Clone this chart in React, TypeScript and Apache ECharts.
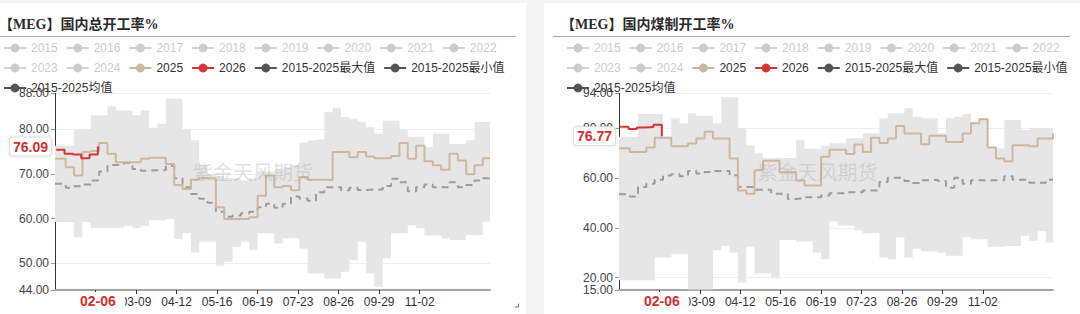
import React, { useEffect, useRef } from 'react';
import * as echarts from 'echarts';

document.body.style.margin = '0';

// ---------- categories: every MM-DD of a leap year ----------
const MONTH_DAYS = [31, 29, 31, 30, 31, 30, 31, 31, 30, 31, 30, 31];
const CATEGORIES: string[] = [];
MONTH_DAYS.forEach((n, m) => {
  for (let d = 1; d <= n; d++) {
    CATEGORIES.push(String(m + 1).padStart(2, '0') + '-' + String(d).padStart(2, '0'));
  }
});

const X_LABELS = ['03-09', '04-12', '05-16', '06-19', '07-23', '08-26', '09-29', '11-02'];
const X_TICKS = ['02-04', '03-09', '04-12', '05-16', '06-19', '07-23', '08-26', '09-29', '11-02'];
const LATEST_DATE = '02-06';

// weekly dates of the historical series (2025, max, min, mean)
const HIST_DATES = [
  '01-01', '01-10', '01-17', '01-24', '01-31', '02-07', '02-14', '02-21', '02-28', '03-06',
  '03-13', '03-20', '03-27', '04-03', '04-10', '04-17', '04-24', '05-01', '05-08', '05-15',
  '05-22', '05-29', '06-05', '06-12', '06-19', '06-26', '07-03', '07-10', '07-17', '07-24',
  '07-31', '08-07', '08-14', '08-21', '08-28', '09-04', '09-11', '09-18', '09-25', '10-02',
  '10-09', '10-16', '10-23', '10-30', '11-06', '11-13', '11-20', '11-27', '12-04', '12-11',
  '12-18', '12-25', '12-31',
];
const DATES_2026 = ['01-02', '01-09', '01-16', '01-23', '01-30', '02-06'];

const HIDDEN_YEARS = ['2015', '2016', '2017', '2018', '2019', '2020', '2021', '2022', '2023', '2024'];
const NAME_2025 = '2025';
const NAME_2026 = '2026';
const NAME_MAX = '2015-2025最大值';
const NAME_MIN = '2015-2025最小值';
const NAME_AVG = '2015-2025均值';

// ---------- 国内总开工率 ----------
const TOTAL_MAX = [76.3, 76.3, 80, 80, 83.1, 83.1, 85.1, 84.2, 84.2, 83.1, 84.2, 80.3, 81.2, 86.8, 86.8, 80, 77.5, 72, 70, 69.5, 69, 69, 68.5, 69, 70.5, 70.5, 71, 71.5, 72, 77, 77.5, 77.7, 83.8, 84.8, 82.7, 82.3, 81.6, 80.4, 79, 81.9, 81.9, 80, 78.3, 78.3, 76, 79, 79, 76.7, 76.7, 77.5, 81.6, 81.6, 76.8];
const TOTAL_MIN = [59.2, 59.2, 55.8, 59.2, 57.9, 57.9, 57.9, 57.9, 58.4, 57.9, 58.4, 59.6, 59.6, 59.9, 55.4, 56.7, 52.4, 54.8, 54.8, 49.4, 50.3, 53.7, 54.8, 53, 56.7, 56.7, 54.4, 55.6, 55.6, 53.3, 47.7, 47.7, 46.6, 46.6, 48.1, 50.7, 54.8, 47.7, 44.7, 51.1, 56.7, 56.7, 58.5, 57.8, 56.2, 56.2, 55.6, 55.2, 55.2, 56.3, 56.3, 59.3, 59.3];
const TOTAL_AVG = [67.8, 66.9, 67.2, 67.6, 68.5, 70.5, 72, 72.1, 72.4, 71.1, 70.7, 70.8, 70.8, 71.8, 69, 67, 65.5, 64.4, 63.5, 61.5, 60.4, 60.7, 61.2, 61.5, 62.5, 63.3, 62.4, 63.3, 64.9, 64.5, 64, 65.9, 67, 67, 66.3, 66.9, 66.4, 66.5, 66.5, 67.3, 68.9, 68.1, 66.1, 67, 67.6, 67, 67, 68.1, 67, 67.5, 68.5, 69, 68.6];
const TOTAL_2025 = [73.4, 71.5, 69.6, 74.9, 75.1, 76.9, 74.5, 72.6, 72.6, 72.6, 73.4, 73.6, 73.6, 72.2, 67.5, 66.6, 68.7, 69, 69, 62.5, 59.9, 59.9, 59.9, 60.3, 65.1, 69.6, 67, 67.3, 66.3, 69.3, 68.7, 68.7, 68.6, 74.9, 74.9, 73.7, 74.9, 73.9, 73.5, 73.5, 74, 76.9, 73.4, 76.3, 72.8, 71.9, 70.9, 74.5, 73, 69.9, 71.9, 73.5, 73.5];
const TOTAL_2026 = [75.4, 74.5, 74.3, 73.5, 74.3, 76.09];

// ---------- 国内煤制开工率 ----------
const COAL_MAX = [76.6, 76.6, 85.7, 85.7, 85.7, 76.6, 84, 82, 86, 85, 85, 82, 92.5, 92.5, 80, 73.2, 70, 68, 68, 68, 68, 75.2, 71.8, 71.8, 73, 74, 74, 76, 76, 78, 78, 84, 86, 86, 88, 84.6, 84, 84, 78, 84, 84.6, 85.7, 82.6, 84, 72.5, 71.9, 83.3, 83.3, 79.3, 80, 80, 80, 83.7];
const COAL_MIN = [18.9, 18.9, 18.9, 18.9, 28.1, 28.1, 29.4, 29.4, 15.2, 15.2, 15.2, 31, 32.7, 30.1, 18, 32.4, 21.6, 21.6, 19.7, 35.1, 35.1, 34.5, 34.5, 30.1, 27.4, 42.6, 40.9, 40.9, 38.9, 37.8, 37.8, 28.1, 27.4, 36.2, 28.1, 31.6, 30.5, 30.5, 30.1, 28.8, 28.8, 36.2, 35.4, 35.4, 32.4, 32.4, 32.7, 32.7, 36.8, 34.8, 38.6, 34.1, 34.1];
const COAL_AVG = [53.5, 52.6, 56.4, 57.7, 59.3, 61, 61.5, 60.7, 62.8, 61.8, 62.4, 62.8, 62.8, 61.1, 56.4, 56.4, 55.3, 55.3, 53.7, 53.7, 51.6, 51.8, 52.3, 52.3, 53, 53.9, 53.9, 54.3, 54.3, 55, 55, 58.4, 60.1, 60.1, 58.8, 58, 59.1, 59.3, 58.8, 56.1, 60.1, 57.7, 59.1, 59.1, 59.1, 59.1, 60.7, 59.3, 59.3, 58.1, 58.1, 59.3, 59.3];
const COAL_2025 = [72, 70.5, 70.5, 72.3, 76.2, 76.2, 72.8, 72.8, 73.9, 75.9, 78.6, 75.9, 75.9, 67.8, 55, 53.7, 63.1, 66.9, 66.9, 62.4, 62.4, 59, 57, 57, 68.5, 71.4, 71.4, 69.6, 73.5, 70.5, 76.2, 74.1, 75.9, 80.9, 77.9, 77.9, 73.6, 77, 77, 74.5, 74.5, 77.9, 82, 83.6, 72.3, 67.8, 66.7, 73.2, 73.2, 72.8, 75.9, 75.9, 77.9];
const COAL_2026 = [80.6, 79.7, 80.3, 80.5, 81.4, 76.77];

const FONT = "'Liberation Sans', 'Noto Sans CJK SC', sans-serif";
const TITLE_FONT = "'Liberation Serif', 'Noto Sans CJK SC', serif";
const C_2025 = '#cbb99f';
const C_2026 = '#d63535';
const C_RED_TEXT = '#d32f2f';
const C_DARK = '#555555';
const C_BAND = '#e6e6e6';
const C_AVG = '#9c9c9c';

interface PanelCfg {
  title: string;
  titleX: number;
  legendLeft: number;
  lineX1: number;
  lineX2: number;
  gridLeft: number;
  gridRight: number;
  yMin: number;
  yMax: number;
  max: number[];
  min: number[];
  avg: number[];
  y2025: number[];
  y2026: number[];
  wmX: number;
  corner: boolean;
}

const pairs = (dates: string[], vals: number[]) => vals.map((v, i) => [dates[i], v]);

function buildOption(p: PanelCfg): any {
  const bandDiff = p.max.map((v, i) => Math.round((v - p.min[i]) * 100) / 100);
  const latestIdx = CATEGORIES.indexOf(LATEST_DATE);
  const latestVal = p.y2026[p.y2026.length - 1];
  const darkLegend = {
    itemStyle: { color: C_DARK, opacity: 1 },
    lineStyle: { color: C_DARK, opacity: 1, width: 2, type: 'solid' },
  };
  const graphics: any[] = [
    {
      type: 'text', x: p.titleX, y: 21.5, z: 100,
      style: { text: p.title, fontSize: 14, fontWeight: 'bold', fill: '#2b2b2b', fontFamily: TITLE_FONT, verticalAlign: 'middle', align: 'left' },
    },
    {
      type: 'line', z: 100,
      shape: { x1: p.lineX1, y1: 33.5, x2: p.lineX2, y2: 33.5 },
      style: { stroke: '#a8a8a8', lineWidth: 1 },
    },
    {
      type: 'text', x: p.wmX, y: 168.7, z: 100, silent: true,
      style: { text: '紫金天风期货', fontSize: 20, fill: 'rgba(150,150,150,0.28)', fontFamily: "'Noto Sans CJK SC', sans-serif", align: 'center', verticalAlign: 'middle' },
    },
  ];
  if (p.corner) {
    graphics.push({
      type: 'polyline', z: 100,
      shape: { points: [[518.5, 300.5], [518.5, 304], [515, 304]] },
      style: { stroke: '#777', lineWidth: 1, fill: null },
    });
  }
  return {
    animation: false,
    textStyle: { fontFamily: FONT },
    graphic: graphics,
    legend: {
      left: p.legendLeft,
      top: 39,
      width: 510,
      padding: 0,
      itemGap: 8,
      itemWidth: 22,
      itemHeight: 11,
      inactiveColor: '#cccccc',
      textStyle: { fontSize: 12, color: '#333', fontFamily: FONT },
      selected: Object.fromEntries(HIDDEN_YEARS.map((y) => [y, false])),
      data: [
        ...HIDDEN_YEARS.map((y) => ({ name: y })),
        { name: NAME_2025 },
        { name: NAME_2026 },
        { name: NAME_MAX, ...darkLegend },
        { name: NAME_MIN, ...darkLegend },
        { name: NAME_AVG, ...darkLegend },
      ],
    },
    grid: { left: p.gridLeft, right: p.gridRight, top: 90.4, bottom: 24, outerBoundsMode: 'none' },
    xAxis: {
      type: 'category',
      data: CATEGORIES,
      boundaryGap: false,
      axisLine: { lineStyle: { color: '#a6a6a6', width: 2 } },
      axisTick: {
        length: 4,
        lineStyle: { color: '#333' },
        interval: (_i: number, v: string) => X_TICKS.includes(v),
      },
      axisLabel: {
        color: '#333',
        fontSize: 12,
        margin: 6,
        fontFamily: FONT,
        interval: (_i: number, v: string) => X_LABELS.includes(v),
      },
      splitLine: { show: false },
      axisPointer: {
        show: true,
        status: 'show',
        value: latestIdx,
        type: 'line',
        triggerTooltip: false,
        lineStyle: { opacity: 0, width: 0 },
        label: {
          show: true,
          margin: 2,
          color: C_RED_TEXT,
          fontWeight: 'bold',
          fontSize: 14,
          fontFamily: FONT,
          backgroundColor: '#ffffff',
          padding: [2, 9, 2, 9],
          borderRadius: 0,
          shadowBlur: 0,
        },
      },
    },
    yAxis: {
      type: 'value',
      min: p.yMin,
      max: p.yMax,
      splitNumber: 5,
      axisLine: { show: true, lineStyle: { color: '#333', width: 1 } },
      axisTick: { show: true, length: 4, lineStyle: { color: '#999' } },
      axisLabel: {
        color: '#444',
        fontSize: 12,
        margin: 6,
        fontFamily: FONT,
        formatter: (v: number) => v.toFixed(2),
      },
      splitLine: { show: true, lineStyle: { color: '#eeeeee', width: 1 } },
      axisPointer: {
        show: true,
        status: 'show',
        value: latestVal,
        type: 'line',
        triggerTooltip: false,
        lineStyle: { opacity: 0, width: 0 },
        label: {
          show: true,
          margin: 4,
          color: C_RED_TEXT,
          fontWeight: 'bold',
          fontSize: 14,
          fontFamily: FONT,
          backgroundColor: '#ffffff',
          borderColor: '#dddddd',
          borderWidth: 1,
          borderRadius: 3,
          padding: [2, 3, 2, 3],
          shadowBlur: 3,
          shadowColor: 'rgba(0,0,0,0.12)',
          formatter: (pp: any) => Number(pp.value).toFixed(2),
        },
      },
    },
    series: [
      ...HIDDEN_YEARS.map((y) => ({ name: y, type: 'line', data: [], symbol: 'circle', showSymbol: false })),
      {
        name: NAME_MIN,
        type: 'line',
        stack: 'band',
        step: 'end',
        data: pairs(HIST_DATES, p.min),
        symbol: 'circle',
        showSymbol: false,
        color: C_DARK,
        lineStyle: { opacity: 0, width: 0 },
        z: 1,
        silent: true,
      },
      {
        name: NAME_MAX,
        type: 'line',
        stack: 'band',
        step: 'end',
        data: pairs(HIST_DATES, bandDiff),
        symbol: 'circle',
        showSymbol: false,
        color: C_DARK,
        lineStyle: { opacity: 0, width: 0 },
        areaStyle: { color: C_BAND, opacity: 1 },
        z: 1,
        silent: true,
      },
      {
        name: NAME_AVG,
        type: 'line',
        step: 'end',
        data: pairs(HIST_DATES, p.avg),
        symbol: 'circle',
        showSymbol: false,
        color: C_DARK,
        lineStyle: { color: C_AVG, width: 2, type: [7, 5] },
        z: 2,
      },
      {
        name: NAME_2025,
        type: 'line',
        step: 'end',
        data: pairs(HIST_DATES, p.y2025),
        symbol: 'circle',
        showSymbol: false,
        color: C_2025,
        lineStyle: { color: C_2025, width: 2 },
        z: 3,
      },
      {
        name: NAME_2026,
        type: 'line',
        step: 'end',
        data: pairs(DATES_2026, p.y2026),
        symbol: 'circle',
        showSymbol: false,
        color: C_2026,
        lineStyle: { color: C_2026, width: 2 },
        z: 4,
      },
    ],
  };
}

const LEFT: PanelCfg = {
  title: '【MEG】国内总开工率%',
  titleX: -1,
  legendLeft: 3,
  lineX1: 0,
  lineX2: 516,
  gridLeft: 55,
  gridRight: 36,
  yMin: 44,
  yMax: 88,
  max: TOTAL_MAX,
  min: TOTAL_MIN,
  avg: TOTAL_AVG,
  y2025: TOTAL_2025,
  y2026: TOTAL_2026,
  wmX: 253,
  corner: true,
};

const RIGHT: PanelCfg = {
  title: '【MEG】国内煤制开工率%',
  titleX: 17,
  legendLeft: 22,
  lineX1: 9,
  lineX2: 526,
  gridLeft: 75,
  gridRight: 27,
  yMin: 15,
  yMax: 94,
  max: COAL_MAX,
  min: COAL_MIN,
  avg: COAL_AVG,
  y2025: COAL_2025,
  y2026: COAL_2026,
  wmX: 273.6,
  corner: false,
};

export default function App() {
  const leftRef = useRef<HTMLDivElement>(null);
  const rightRef = useRef<HTMLDivElement>(null);
  useEffect(() => {
    const c1 = echarts.init(leftRef.current!, null, { renderer: 'svg' });
    const c2 = echarts.init(rightRef.current!, null, { renderer: 'svg' });
    c1.setOption(buildOption(LEFT));
    c2.setOption(buildOption(RIGHT));
    return () => {
      c1.dispose();
      c2.dispose();
    };
  }, []);
  return (
    <div style={{ position: 'relative', width: 1080, height: 314, background: '#f4f4f4', overflow: 'hidden' }}>
      <div ref={leftRef} style={{ position: 'absolute', left: 0, top: 3, width: 526, height: 311, background: '#fff' }} />
      <div ref={rightRef} style={{ position: 'absolute', left: 544, top: 3, width: 536, height: 311, background: '#fff' }} />
    </div>
  );
}
